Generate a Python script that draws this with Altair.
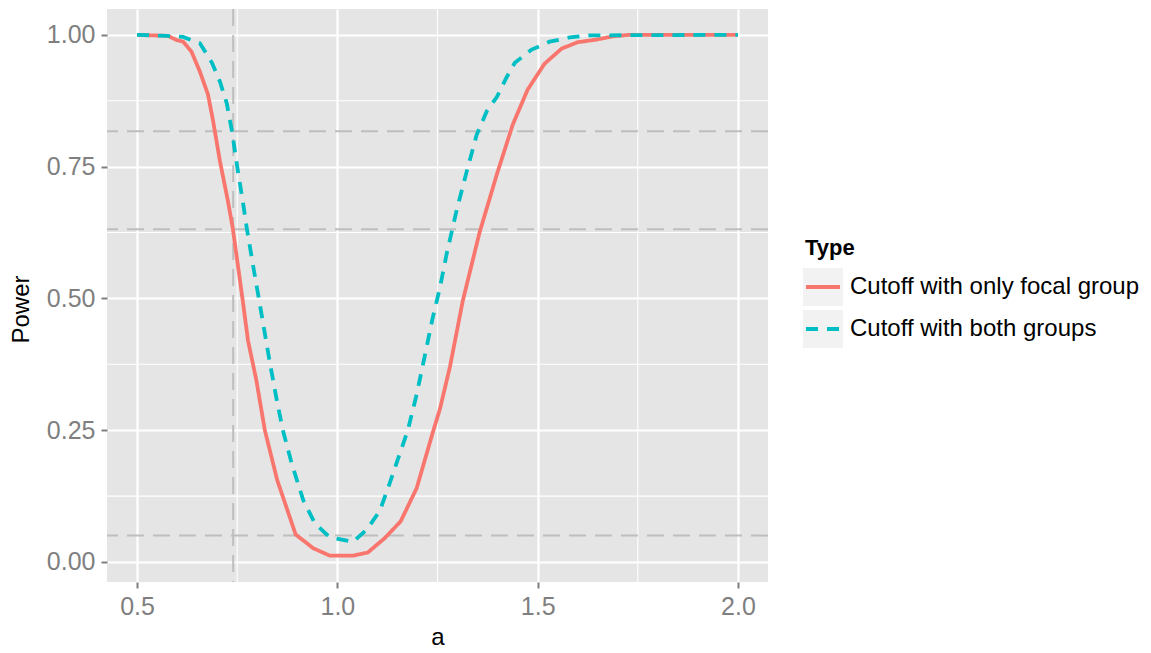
import altair as alt
import pandas as pd

TYPES = ["Cutoff with only focal group", "Cutoff with both groups"]
COLORS = ["#F8766D", "#00BFC4"]

a_focal = [0.5, 0.577, 0.599, 0.615, 0.636, 0.657, 0.677, 0.690, 0.707, 0.727,
           0.739, 0.764, 0.777, 0.798, 0.819, 0.850, 0.896, 0.940, 0.981, 1.039,
           1.076, 1.118, 1.158, 1.198, 1.238, 1.256, 1.281, 1.313, 1.355, 1.398,
           1.438, 1.475, 1.517, 1.560, 1.600, 1.647, 1.687, 1.729, 2.0]
p_focal = [1.0, 0.998, 0.990, 0.987, 0.968, 0.930, 0.887, 0.836, 0.760, 0.684,
           0.633, 0.495, 0.420, 0.344, 0.250, 0.155, 0.052, 0.026, 0.012, 0.012,
           0.018, 0.045, 0.077, 0.140, 0.245, 0.290, 0.370, 0.495, 0.625, 0.735,
           0.830, 0.896, 0.945, 0.974, 0.986, 0.991, 0.997, 1.0, 1.0]

a_both = [0.5, 0.575, 0.615, 0.657, 0.687, 0.707, 0.724, 0.737, 0.750, 0.764,
          0.774, 0.789, 0.804, 0.832, 0.849, 0.864, 0.886, 0.915, 0.944, 0.981,
          1.039, 1.074, 1.106, 1.131, 1.156, 1.176, 1.198, 1.218, 1.238, 1.256,
          1.273, 1.298, 1.323, 1.348, 1.373, 1.398, 1.423, 1.443, 1.485, 1.530,
          1.580, 1.630, 2.0]
p_both = [1.0, 0.998, 0.996, 0.984, 0.947, 0.911, 0.870, 0.817, 0.750, 0.684,
          0.633, 0.565, 0.500, 0.376, 0.306, 0.250, 0.187, 0.117, 0.073, 0.047,
          0.038, 0.062, 0.097, 0.150, 0.206, 0.250, 0.318, 0.390, 0.463, 0.520,
          0.585, 0.668, 0.741, 0.811, 0.855, 0.882, 0.920, 0.947, 0.972, 0.987,
          0.995, 0.999, 1.0]

H_REF = [0.05, 0.631, 0.817]
V_REF = [0.74]
X_TICKS = [0.5, 1.0, 1.5, 2.0]
X_MINOR = [0.75, 1.25, 1.75]
Y_TICKS = [0.0, 0.25, 0.5, 0.75, 1.0]
Y_MINOR = [0.125, 0.375, 0.625, 0.875]

FONT = "Liberation Sans"
W, H = 661, 573

df_f = pd.DataFrame({"a": a_focal, "Power": p_focal, "Type": TYPES[0]})
df_b = pd.DataFrame({"a": a_both, "Power": p_both, "Type": TYPES[1]})
df_xminor = pd.DataFrame({"a": X_MINOR})
df_yminor = pd.DataFrame({"Power": Y_MINOR})
df_href = pd.DataFrame({"Power": H_REF})
df_vref = pd.DataFrame({"a": V_REF})

xs = alt.Scale(domain=[0.425, 2.075], nice=False, zero=False)
ys = alt.Scale(domain=[-0.038, 1.049], nice=False, zero=False)
color_scale = alt.Scale(domain=TYPES, range=COLORS)
dash_scale = alt.Scale(domain=TYPES, range=[[1, 0], [12, 9]])

x_axis = alt.Axis(values=X_TICKS, format=".1f", title="a", grid=True,
                  titleY=55, titleBaseline="middle")
y_axis = alt.Axis(values=Y_TICKS, format=".2f", title="Power", grid=True,
                  titleX=-86, titleY=300, titleBaseline="middle", titleAngle=-90)

X = alt.X("a:Q", scale=xs, axis=x_axis)
Y = alt.Y("Power:Q", scale=ys, axis=y_axis)

minor_x = alt.Chart(df_xminor).mark_rule(color="white", strokeWidth=1.1).encode(x=X)
minor_y = alt.Chart(df_yminor).mark_rule(color="white", strokeWidth=1.1).encode(y=Y)

href = alt.Chart(df_href).mark_rule(color="#BEBEBE", strokeWidth=2, strokeDash=[17, 9]).encode(y=Y)
vref = alt.Chart(df_vref).mark_rule(color="#BEBEBE", strokeWidth=2, strokeDash=[17, 9]).encode(x=X)

line_f = alt.Chart(df_f).mark_line(strokeWidth=3.8, strokeCap="butt").encode(
    x=X, y=Y,
    color=alt.Color("Type:N", scale=color_scale, legend=None),
    strokeDash=alt.StrokeDash("Type:N", scale=dash_scale, legend=None),
)
line_b = alt.Chart(df_b).mark_line(strokeWidth=3.8, strokeCap="butt").encode(
    x=X, y=Y,
    color=alt.Color("Type:N", scale=color_scale, legend=None),
    strokeDash=alt.StrokeDash("Type:N", scale=dash_scale, legend=None),
)

# legend (drawn manually, ggplot style)
leg_layers = []
one = pd.DataFrame({"k": [0]})
leg_layers.append(
    alt.Chart(one).mark_text(text="Type", align="left", baseline="middle", fontSize=22,
                             fontWeight="bold", font=FONT, color="black")
    .encode(x=alt.value(698), y=alt.value(239))
)
for i, t in enumerate(TYPES):
    yc = 278 + i * 42
    d = pd.DataFrame({"Type": [t]})
    leg_layers.append(
        alt.Chart(d).mark_rect(color="#F2F2F2").encode(
            x=alt.value(696), x2=alt.value(736), y=alt.value(yc - 19), y2=alt.value(yc + 19))
    )
    leg_layers.append(
        alt.Chart(d).mark_rule(strokeWidth=3.8, strokeCap="butt").encode(
            x=alt.value(699), x2=alt.value(733), y=alt.value(yc),
            color=alt.Color("Type:N", scale=color_scale, legend=None),
            strokeDash=alt.StrokeDash("Type:N", scale=dash_scale, legend=None))
    )
    leg_layers.append(
        alt.Chart(d).mark_text(align="left", baseline="middle", fontSize=24, font=FONT,
                               color="black").encode(
            x=alt.value(743), y=alt.value(yc), text="Type:N")
    )

chart = alt.layer(minor_x, minor_y, href, vref, line_f, line_b, *leg_layers).properties(
    width=W, height=H,
    autosize=alt.AutoSizeParams(type="none"),
    padding={"left": 107, "top": 9, "right": 383, "bottom": 71},
    background="white",
).configure_view(
    fill="#E5E5E5", strokeWidth=0
).configure_axis(
    labelFont=FONT, titleFont=FONT, labelColor="#7F7F7F", labelFontSize=25,
    titleFontSize=24, titleFontWeight="normal", titleColor="black",
    tickColor="#7F7F7F", tickSize=6, tickWidth=2, labelPadding=6,
    domain=False, gridColor="white", gridWidth=2.2,
)

chart.save("out.html", embed_options={"renderer": "svg", "actions": False})
